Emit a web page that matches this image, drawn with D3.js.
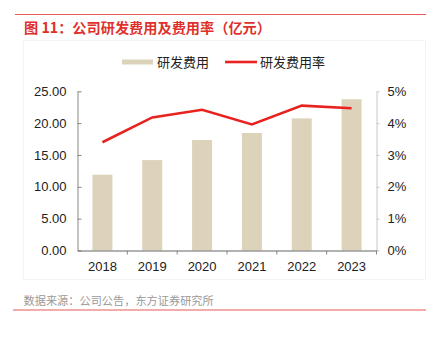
<!DOCTYPE html>
<html>
<head>
<meta charset="utf-8">
<script src="https://cdn.jsdelivr.net/npm/d3@7"></script>
<style>
  html, body { margin: 0; padding: 0; background: #fff; }
  svg { display: block; font-family: "Liberation Sans", Arial, "Noto Sans CJK SC", sans-serif; }
</style>
</head>
<body>
<svg id="chart" width="428" height="337"></svg>
<script>
// R&D spending (100M CNY) and R&D expense ratio, 2018–2023
const years = ["2018", "2019", "2020", "2021", "2022", "2023"];
const rdExpense = [11.9, 14.2, 17.35, 18.45, 20.75, 23.75];
const rdRatio = [0.0340, 0.0418, 0.0442, 0.0396, 0.0455, 0.0447];
const leftTicks = [0, 5, 10, 15, 20, 25];
const rightTicks = [0, 0.01, 0.02, 0.03, 0.04, 0.05];
const seriesNames = ["研发费用", "研发费用率"];
const titleText = "图 11：公司研发费用及费用率（亿元）";
const sourceText = "数据来源：公司公告，东方证券研究所";

const svg = d3.select("#chart");
const cjk = '"Noto Sans CJK SC", sans-serif';

// frame lines and title
svg.append("line").attr("x1", 15).attr("x2", 426).attr("y1", 14.5).attr("y2", 14.5)
  .attr("stroke", "#e8595a").attr("stroke-width", 1.2);
svg.append("text").attr("x", 24).attr("y", 32.5)
  .attr("fill", "#e0302c").attr("font-size", 14.2).attr("font-weight", "bold")
  .style("font-family", cjk).text(titleText);

svg.append("rect").attr("x", 23.5).attr("y", 40.5).attr("width", 402).attr("height", 239)
  .attr("fill", "none").attr("stroke", "#f4f4f4");

const plot = { left: 77.5, right: 376.5, top: 91.3, bottom: 250.5 };

const x = d3.scaleBand().domain(years).range([plot.left, plot.right]).paddingInner(0).paddingOuter(0);
const yL = d3.scaleLinear().domain([0, 25]).range([plot.bottom, plot.top]);
const yR = d3.scaleLinear().domain([0, 0.05]).range([plot.bottom, plot.top]);

const barW = 20;
const barColor = "#ddd3bb";
const lineColor = "#e8231f";

// bars
svg.append("g").selectAll("rect").data(years).join("rect")
  .attr("x", d => x(d) + x.bandwidth() / 2 - barW / 2)
  .attr("y", (d, i) => yL(rdExpense[i]))
  .attr("width", barW)
  .attr("height", (d, i) => yL(0) - yL(rdExpense[i]))
  .attr("fill", barColor);

// ratio line
const line = d3.line()
  .x((d, i) => x(years[i]) + x.bandwidth() / 2)
  .y(d => yR(d));
svg.append("path").datum(rdRatio)
  .attr("d", line).attr("fill", "none")
  .attr("stroke", lineColor).attr("stroke-width", 2.6).attr("stroke-linejoin", "miter");

// left axis
const gL = svg.append("g").attr("transform", `translate(${plot.left},0)`)
  .call(d3.axisLeft(yL).tickValues(leftTicks).tickFormat(d3.format(".2f")).tickSizeInner(-4).tickSizeOuter(0).tickPadding(11));
gL.select(".domain").attr("stroke", "#888");
gL.selectAll(".tick line").attr("stroke", "#888");
gL.selectAll("text").attr("font-size", 13).attr("fill", "#222");

// right axis
const gR = svg.append("g").attr("transform", `translate(${plot.right},0)`)
  .call(d3.axisRight(yR).tickValues(rightTicks).tickFormat(d3.format(".0%")).tickSizeInner(3).tickSizeOuter(0).tickPadding(8));
gR.select(".domain").attr("stroke", "#c8c8c8");
gR.selectAll(".tick line").attr("stroke", "#c8c8c8");
gR.selectAll("text").attr("font-size", 13).attr("fill", "#222");

// bottom axis: labels centred on bands, ticks at band edges
const gB = svg.append("g").attr("transform", `translate(0,${plot.bottom})`)
  .call(d3.axisBottom(x).tickSize(0).tickPadding(11));
gB.select(".domain").attr("stroke", "#666");
gB.selectAll("text").attr("font-size", 13).attr("fill", "#222");
const edges = years.slice(1).map(d => x(d)).concat([plot.right]);
gB.selectAll("line.edge").data(edges).join("line").attr("class", "edge")
  .attr("x1", d => d).attr("x2", d => d).attr("y1", 0).attr("y2", 4)
  .attr("stroke", "#888");

// legend
const lg = svg.append("g");
lg.append("rect").attr("x", 122).attr("y", 59.5).attr("width", 31).attr("height", 5).attr("fill", barColor);
lg.append("text").attr("x", 157).attr("y", 67).attr("font-size", 13).attr("fill", "#222")
  .style("font-family", cjk).text(seriesNames[0]);
lg.append("line").attr("x1", 225).attr("x2", 257).attr("y1", 62).attr("y2", 62)
  .attr("stroke", lineColor).attr("stroke-width", 2.6);
lg.append("text").attr("x", 260).attr("y", 67).attr("font-size", 13).attr("fill", "#222")
  .style("font-family", cjk).text(seriesNames[1]);

// source note and bottom rule
svg.append("text").attr("x", 23.5).attr("y", 305).attr("font-size", 11.2).attr("fill", "#999")
  .style("font-family", cjk).text(sourceText);
svg.append("line").attr("x1", 13).attr("x2", 426).attr("y1", 310).attr("y2", 310)
  .attr("stroke", "#e8595a").attr("stroke-width", 1.2);
</script>
</body>
</html>
